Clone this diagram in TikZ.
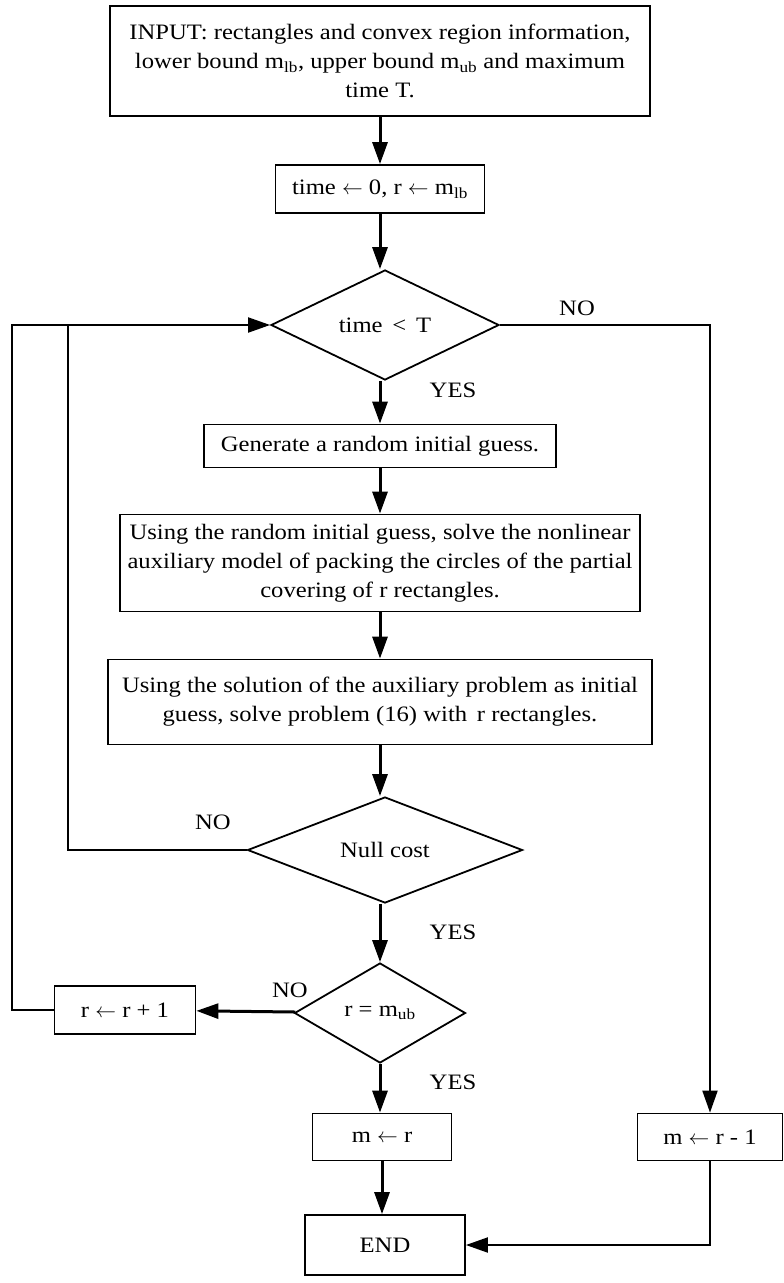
\documentclass[tikz,border=0pt]{standalone}
\usepackage{fontspec}
\setmainfont{Liberation Serif}[FakeStretch=1.12]
\usetikzlibrary{shapes.geometric,arrows.meta}

\begin{document}
\begin{tikzpicture}[x=1pt, y=-1pt,
    % Box and decision styles
    procbox/.style={draw, line width=1.8pt, rectangle, inner sep=2pt, align=center},
    decision/.style={draw, line width=1.8pt, diamond, inner sep=0pt},
    % Connector styles
    flow/.style={line width=3pt, -{Triangle[length=22pt, width=15pt]}},
    back/.style={line width=2pt},
    % Label styles
    answer/.style={font=\fontsize{22}{26}\selectfont},
]
\useasboundingbox (0,0) rectangle (784,1283);
\fontsize{22}{29}\selectfont

% Process boxes
\node[procbox, minimum width=540pt, minimum height=110pt] (input) at (380,61)
    {INPUT: rectangles and convex region information,\\
     lower bound m\textsubscript{lb}, upper bound m\textsubscript{ub} and maximum\\
     time T.};
\node[procbox, minimum width=209pt, minimum height=48pt] (init) at (380,189)
    {time $\leftarrow$ 0, r $\leftarrow$ m\textsubscript{lb}};
\node[decision, minimum width=228pt, minimum height=110pt] (timechk) at (385,325)
    {time \,<\, T};
\node[procbox, minimum width=352pt, minimum height=43pt] (guess) at (380,446)
    {Generate a random initial guess.};
\node[procbox, minimum width=520pt, minimum height=97pt] (aux) at (380,563)
    {Using the random initial guess, solve the nonlinear\\
     auxiliary model of packing the circles of the partial\\
     covering of r rectangles.};
\node[procbox, minimum width=544pt, minimum height=85pt] (solve) at (380,702)
    {Using the solution of the auxiliary problem as initial\\
     guess, solve problem (16) with\, r rectangles.};
\node[decision, minimum width=275pt, minimum height=106pt] (nullc) at (385,850)
    {Null cost};
\node[decision, minimum width=171pt, minimum height=100pt] (rub) at (380,1013)
    {r = m\textsubscript{ub}};
\node[procbox, minimum width=141pt, minimum height=48pt] (rinc) at (125,1010)
    {r $\leftarrow$ r + 1};
\node[procbox, minimum width=139pt, minimum height=47pt] (mr) at (382,1137)
    {m $\leftarrow$ r};
\node[procbox, minimum width=145pt, minimum height=47pt] (mrm) at (710,1137)
    {m $\leftarrow$ r - 1};
\node[procbox, minimum width=160pt, minimum height=60pt] (endn) at (385,1245)
    {END};

% Loop-back corners
\coordinate (outer) at (12,325);
\coordinate (inner) at (68,325);

% Main flow
\draw[flow] (input) -- (init);
\draw[flow] (init) -- (init |- timechk.north);
\draw[flow] (init |- timechk.south) -- (init |- guess.north);
\draw[flow] (guess) -- (aux);
\draw[flow] (aux) -- (solve);
\draw[flow] (solve) -- (solve |- nullc.north);
\draw[flow] (solve |- nullc.south) -- (solve |- rub.north);
\draw[flow] (rub) -- (rub |- mr.north);
\draw[flow] (mr) -- (mr |- endn.north);
\draw[flow] (rub) -- (rinc);

% Loops and exit
\draw[back, -{Triangle[length=22pt, width=15pt]}] (rinc.west) -| (outer) -- (timechk.west);
\draw[back] (nullc.west) -| (inner);
\draw[back, -{Triangle[length=22pt, width=15pt]}] (timechk.east) -| (mrm.north);
\draw[back, -{Triangle[length=22pt, width=15pt]}] (mrm.south) |- (endn.east);

% Branch labels
\node[answer] (no1) at (577,308) {NO};
\node[answer] (yes1) at (453,390) {YES};
\node[answer] (no2) at (213,822) {NO};
\node[answer] (yes2) at (453,932) {YES};
\node[answer] (no3) at (290,990) {NO};
\node[answer] (yes3) at (453,1082) {YES};

\end{tikzpicture}
\end{document}
